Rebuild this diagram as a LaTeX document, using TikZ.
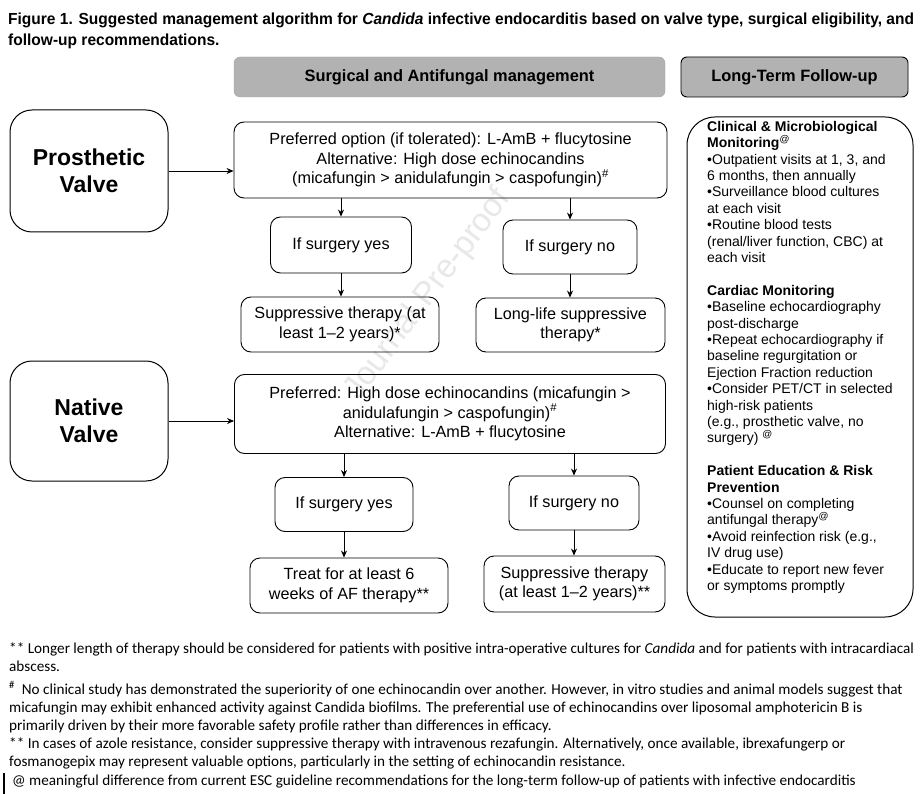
\documentclass[tikz,border=0pt]{standalone}
\usepackage{fontspec}
\setmainfont{Liberation Sans}
\newfontfamily\titlefont[FakeStretch=0.97]{Liberation Sans}
\newfontfamily\notefont{Carlito}
\usetikzlibrary{arrows.meta}
\begin{document}
\begin{tikzpicture}[x=1pt,y=-1pt,
  box/.style={draw, line width=0.9pt, rounded corners=10pt, align=center, inner sep=0pt,
    font=\fontsize{16.2}{19.5}\selectfont},
  bigbox/.style={draw, line width=1pt, rounded corners=22pt, align=center, inner sep=0pt,
    minimum width=158pt, font=\bfseries\fontsize{23}{27}\selectfont},
  hdr/.style={rounded corners=6pt, fill=gray!60, inner sep=0pt, minimum height=40pt,
    font=\bfseries\fontsize{16.4}{18}\selectfont},
  arr/.style={-{Stealth[length=7pt,width=6pt]}, line width=0.8pt},
  note/.style={anchor=base west, inner sep=0pt, font=\notefont\fontsize{15.2}{18}\selectfont},
]
\useasboundingbox (0,0) rectangle (923,794);
\fill[white] (0,0) rectangle (923,794);

% watermark
\node[rotate=53, text=black!9, font=\fontsize{33}{33}\selectfont] (wm) at (428,295) {Journal Pre-proof};

% title
\node[anchor=base west, inner sep=0pt, font=\titlefont\bfseries\fontsize{16}{18}\selectfont] (t1) at (8,25)
  {Figure 1. Suggested management algorithm for \textit{Candida} infective endocarditis based on valve type, surgical eligibility, and};
\node[anchor=base west, inner sep=0pt, font=\titlefont\bfseries\fontsize{16}{18}\selectfont] (t2) at (8,46)
  {follow-up recommendations.};

% headers
\node[hdr, draw=gray!70, minimum width=431pt] (h1) at (449.5,77) {Surgical and Antifungal management};
\node[hdr, draw=black, line width=0.9pt, minimum width=227pt] (h2) at (794.5,77) {Long-Term Follow-up};

% prosthetic
\node[bigbox, minimum height=122pt] (pv) at (89,171) {Prosthetic\\Valve};
\node[box, minimum width=433pt, minimum height=76pt] (p1) at (450.5,160)
  {Preferred option (if tolerated): L-AmB + flucytosine\\Alternative: High dose echinocandins\\(micafungin > anidulafungin > caspofungin)\textsuperscript{\#}};
\node[box, minimum width=141pt, minimum height=56pt] (py) at (341,245) {If surgery yes};
\node[box, minimum width=134pt, minimum height=54pt] (pn) at (570,247) {If surgery no};
\node[box, minimum width=198pt, minimum height=55pt] (ps) at (340,324.5) {Suppressive therapy (at\\least 1–2 years)*};
\node[box, minimum width=189pt, minimum height=54pt] (pl) at (570.5,325) {Long-life suppressive\\therapy*};

\draw[arr] (pv.east) -- (pv.east -| p1.west);
\draw[arr] (py.north |- p1.south) -- (py.north);
\draw[arr] (pn.north |- p1.south) -- (pn.north);
\draw[arr] (py.south) -- (py.south |- ps.north);
\draw[arr] (pn.south) -- (pn.south |- pl.north);

% native
\node[bigbox, minimum height=120pt] (nv) at (89,421) {Native\\Valve};
\node[box, minimum width=431pt, minimum height=79pt] (n1) at (450,414)
  {Preferred: High dose echinocandins (micafungin >\\anidulafungin > caspofungin)\textsuperscript{\#}\\Alternative: L-AmB + flucytosine};
\node[box, minimum width=138pt, minimum height=54pt] (ny) at (344,504.5) {If surgery yes};
\node[box, minimum width=130pt, minimum height=54pt] (nn) at (574,503) {If surgery no};
\node[box, minimum width=198pt, minimum height=55pt] (nt) at (349,585.5) {Treat for at least 6\\weeks of AF therapy**};
\node[box, minimum width=181pt, minimum height=56pt] (ns) at (574.5,584) {Suppressive therapy\\(at least 1–2 years)**};

\draw[arr] (nv.east) -- (nv.east -| n1.west);
\draw[arr] (ny.north |- n1.south) -- (ny.north);
\draw[arr] (nn.north |- n1.south) -- (nn.north);
\draw[arr] (ny.south) -- (ny.south |- nt.north);
\draw[arr] (nn.south) -- (nn.south |- ns.north);

% follow-up
\node[draw, line width=1pt, rounded corners=28pt, minimum width=226pt, minimum height=500pt, inner sep=0pt] (fu) at (800,367) {};
\node[anchor=north west, inner sep=0pt, align=left, font=\fontsize{14}{16.4}\selectfont] (ft) at (707,121) {%
\textbf{Clinical \& Microbiological}\\
\textbf{Monitoring}\textsuperscript{@}\\
•Outpatient visits at 1, 3, and\\
6 months, then annually\\
•Surveillance blood cultures\\
at each visit\\
•Routine blood tests\\
(renal/liver function, CBC) at\\
each visit\\[16.4pt]
\textbf{Cardiac Monitoring}\\
•Baseline echocardiography\\
post-discharge\\
•Repeat echocardiography if\\
baseline regurgitation or\\
Ejection Fraction reduction\\
•Consider PET/CT in selected\\
high-risk patients\\
(e.g., prosthetic valve, no\\
surgery) \textsuperscript{@}\\[16.4pt]
\textbf{Patient Education \& Risk}\\
\textbf{Prevention}\\
•Counsel on completing\\
antifungal therapy\textsuperscript{@}\\
•Avoid reinfection risk (e.g.,\\
IV drug use)\\
•Educate to report new fever\\
or symptoms promptly};

% footnotes
\node[note] (f1) at (9,653) {** Longer length of therapy should be considered for patients with positive intra-operative cultures for \textit{Candida} and for patients with intracardiacal};
\node[note] (f2) at (9,671) {abscess.};
\node[note] (f3) at (9,694) {\textsuperscript{\#}~ No clinical study has demonstrated the superiority of one echinocandin over another. However, in vitro studies and animal models suggest that};
\node[note] (f4) at (9,712) {micafungin may exhibit enhanced activity against Candida biofilms. The preferential use of echinocandins over liposomal amphotericin B is};
\node[note] (f5) at (9,730) {primarily driven by their more favorable safety profile rather than differences in efficacy.};
\node[note] (f6) at (9,748) {** In cases of azole resistance, consider suppressive therapy with intravenous rezafungin. Alternatively, once available, ibrexafungerp or};
\node[note] (f7) at (9,766) {fosmanogepix may represent valuable options, particularly in the setting of echinocandin resistance.};
\node[note] (f8) at (12,785) {@ meaningful difference from current ESC guideline recommendations for the long-term follow-up of patients with infective endocarditis};
\draw[line width=2pt] (4,773) -- (4,794);
\end{tikzpicture}
\end{document}
